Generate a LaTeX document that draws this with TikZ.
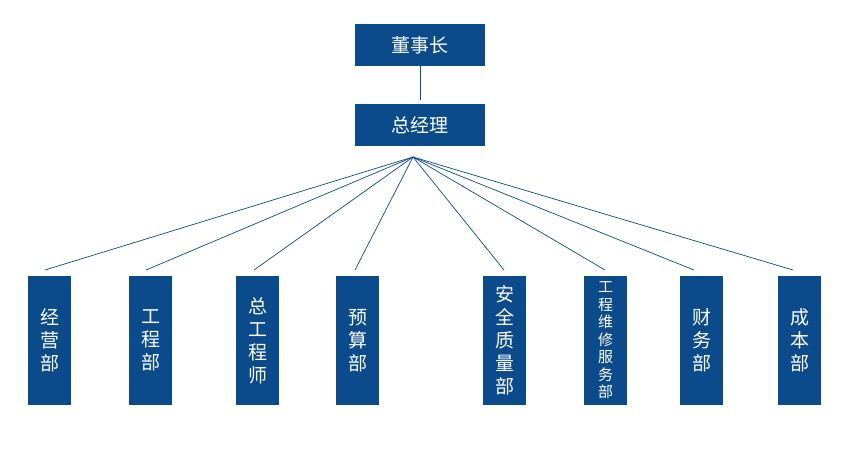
\documentclass[tikz,border=0pt]{standalone}
\usepackage{fontspec}
\newfontfamily\cjk{Noto Sans CJK SC}
\definecolor{boxblue}{HTML}{0B4A8B}
\begin{document}
\begin{tikzpicture}[x=1pt,y=-1pt,
  box/.style={fill=boxblue,text=white,inner sep=0pt,font=\cjk\fontsize{19}{20}\selectfont},
  vbox/.style={box,minimum width=43pt,minimum height=129pt,align=center,font=\cjk\fontsize{19}{23}\selectfont},
  ln/.style={draw=boxblue,line width=0.7pt}]
\useasboundingbox (0,0) rectangle (860,453);
\node[box,minimum width=130pt,minimum height=42pt] (a) at (420,45) {董事长};
\node[box,minimum width=130pt,minimum height=42pt] (b) at (420,125) {总经理};
\coordinate (aend) at (420,100);
\draw[ln] (a.south) -- (aend);
\coordinate (hub) at (413,157);
\node[vbox] (n1) at (49.5,340.5) {经\\营\\部};
\node[vbox] (n2) at (150.5,340.5) {工\\程\\部};
\node[vbox] (n3) at (257.5,340.5) {总\\工\\程\\师};
\node[vbox] (n4) at (357.5,340.5) {预\\算\\部};
\node[vbox] (n5) at (504.5,340.5) {安\\全\\质\\量\\部};
\node[vbox,font=\cjk\fontsize{15}{17.5}\selectfont] (n6) at (605.5,340.5) {工\\程\\维\\修\\服\\务\\部};
\node[vbox] (n7) at (701.5,340.5) {财\\务\\部};
\node[vbox] (n8) at (799.5,340.5) {成\\本\\部};
\foreach \n/\x in {1/45,2/146,3/254,4/355,5/504,6/605,7/694,8/793}{
  \coordinate (e\n) at (\x,270);
  \draw[ln] (hub) -- (e\n);
}
\end{tikzpicture}
\end{document}
